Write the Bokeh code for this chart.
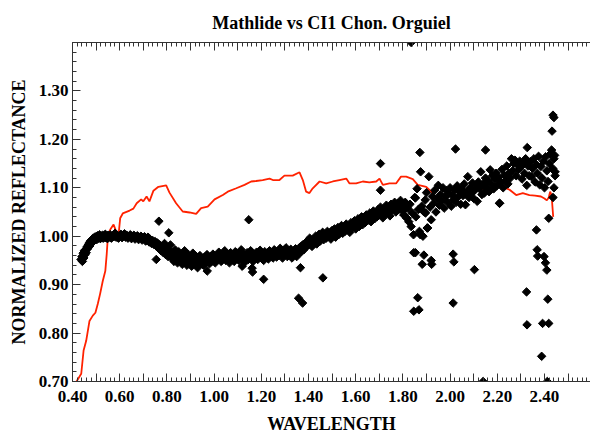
from bokeh.plotting import figure
from bokeh.models import FixedTicker, LinearAxis, Range1d, ColumnDataSource, CustomJSTickFormatter
from bokeh.embed import file_html
from bokeh.resources import INLINE

FONT = "Liberation Serif"

# ---- red line: CI1 chondrite Orgueil (normalized) ----
orgueil_wl = [0.417,0.437,0.447,0.458,0.472,0.486,0.497,0.507,0.517,0.528,0.539,0.545,0.550,0.560,0.574,0.585,0.595,0.602,0.613,0.642,
              0.658,0.672,0.691,0.700,0.714,0.726,0.743,0.764,0.797,0.811,0.839,0.867,0.896,0.924,0.945,0.973,1.002,1.037,1.058,1.094,
              1.129,1.157,1.178,1.206,1.235,1.249,1.277,1.298,1.333,1.362,1.376,1.390,1.404,1.418,1.447,1.475,1.503,1.531,1.560,1.574,
              1.602,1.630,1.658,1.687,1.701,1.715,1.743,1.771,1.792,1.814,1.842,1.863,1.899,1.920,1.941,1.962,1.976,1.997,2.026,2.047,
              2.068,2.075,2.089,2.125,2.167,2.195,2.223,2.252,2.280,2.308,2.336,2.360,2.385,2.400,2.410,2.418,2.424,2.430,2.437]
orgueil_refl = [0.700,0.716,0.764,0.784,0.825,0.836,0.842,0.860,0.881,0.907,0.928,0.963,1.000,1.014,1.024,1.010,1.002,1.037,1.047,1.053,
                1.057,1.068,1.076,1.072,1.082,1.072,1.094,1.102,1.105,1.090,1.068,1.051,1.049,1.046,1.058,1.061,1.076,1.085,1.092,1.099,
                1.106,1.113,1.114,1.116,1.119,1.116,1.116,1.125,1.125,1.132,1.116,1.092,1.089,1.099,1.113,1.109,1.113,1.116,1.119,1.109,
                1.109,1.113,1.111,1.113,1.119,1.106,1.109,1.109,1.123,1.123,1.118,1.106,1.102,1.092,1.078,1.072,1.078,1.096,1.092,1.096,
                1.092,1.099,1.092,1.098,1.096,1.105,1.102,1.096,1.085,1.089,1.085,1.084,1.082,1.078,1.074,1.080,1.092,1.085,1.040]

# ---- black diamonds: Mathilde (wavelength, normalized reflectance) ----
mathilde_vis = [(0.436,0.952),(0.440,0.958),(0.442,0.948),(0.445,0.965),(0.448,0.955),(0.450,0.970),(0.453,0.962),(0.456,0.972),
    (0.458,0.966),(0.461,0.978),(0.464,0.974),(0.467,0.982),(0.470,0.986),(0.473,0.980),(0.476,0.990),(0.479,0.985),(0.482,0.993),
    (0.485,0.988),(0.488,0.996),(0.491,0.991),(0.494,0.998),(0.497,0.994),(0.500,0.999),(0.503,0.993),(0.506,1.001),(0.509,0.996),
    (0.512,0.999),(0.515,1.003),(0.518,0.995),(0.521,1.000),(0.524,0.997),(0.527,1.002),(0.530,0.996),(0.533,1.001),(0.536,0.998),
    (0.539,1.004),(0.542,0.997),(0.545,1.000),(0.548,0.995),(0.551,1.002),(0.555,0.998),(0.560,1.003),(0.565,0.996),(0.570,1.001),
    (0.575,0.999),(0.580,1.006),(0.585,0.998),(0.590,1.002),(0.595,0.996),(0.600,1.000),(0.605,1.004),(0.610,0.997),(0.615,1.001),
    (0.620,1.005),(0.625,0.998),(0.630,1.002),(0.635,0.996),(0.640,1.000),(0.645,1.003),(0.650,0.995),(0.655,0.999),(0.660,1.002),
    (0.665,0.994),(0.670,0.998),(0.675,1.001),(0.680,0.993),(0.685,0.997),(0.690,1.000),(0.695,0.992),(0.700,0.996),(0.705,0.999),
    (0.710,0.990),(0.715,0.995),(0.720,0.998),(0.725,0.988),(0.730,0.993),(0.735,0.985),(0.740,0.991),(0.745,0.983),(0.750,0.989)]

mathilde_1um = [(0.755,0.980),(0.760,0.986),(0.765,0.975),(0.770,0.982),(0.775,0.970),(0.780,0.978),(0.785,0.966),(0.790,0.985),
    (0.795,0.962),(0.800,0.975),(0.805,0.958),(0.810,0.970),(0.815,0.982),(0.820,0.955),(0.825,0.966),(0.830,0.948),(0.835,0.972),
    (0.840,0.960),(0.845,0.945),(0.850,0.968),(0.855,0.952),(0.860,0.963),(0.865,0.942),(0.870,0.958),(0.875,0.970),(0.880,0.950),
    (0.885,0.940),(0.890,0.962),(0.895,0.947),(0.900,0.955),(0.905,0.938),(0.910,0.965),(0.915,0.950),(0.920,0.942),(0.925,0.958),
    (0.930,0.935),(0.935,0.948),(0.940,0.960),(0.945,0.944),(0.950,0.952),(0.955,0.940),(0.960,0.957),(0.965,0.946),(0.970,0.962),
    (0.975,0.950),(0.980,0.943),(0.985,0.958),(0.990,0.948),(0.995,0.963),(1.000,0.953),
    (1.005,0.945),(1.010,0.960),(1.015,0.952),(1.020,0.967),(1.025,0.956),(1.030,0.948),(1.035,0.962),(1.040,0.955),(1.045,0.970),
    (1.050,0.950),(1.055,0.963),(1.060,0.957),(1.065,0.945),(1.070,0.966),(1.075,0.953),(1.080,0.960),(1.085,0.948),(1.090,0.968),
    (1.095,0.955),(1.100,0.962),(1.105,0.950),(1.110,0.958),(1.115,0.972),(1.120,0.953),(1.125,0.962),(1.130,0.946),(1.135,0.959),
    (1.140,0.966),(1.145,0.952),(1.150,0.961),(1.155,0.970),(1.160,0.955),(1.165,0.948),(1.170,0.963),(1.175,0.958),(1.180,0.967),
    (1.185,0.952),(1.190,0.960),(1.195,0.971),(1.200,0.956),(1.205,0.963),(1.210,0.950),(1.215,0.968),(1.220,0.958),(1.225,0.964),
    (1.230,0.953),(1.235,0.970),(1.240,0.960),(1.245,0.966),(1.250,0.955),(1.255,0.972),(1.260,0.962),(1.265,0.957),(1.270,0.968),
    (1.275,0.960),(1.280,0.975),(1.285,0.963),(1.290,0.955),(1.295,0.970),(1.300,0.962),(1.305,0.976),(1.310,0.958),(1.315,0.968),
    (1.320,0.961),(1.325,0.973),(1.330,0.955),(1.335,0.967),(1.340,0.962),(1.345,0.974),(1.350,0.958),(1.355,0.970),(1.360,0.965),
    (1.365,0.978),(1.370,0.968),(1.375,0.982),(1.380,0.972)]

mathilde_slope = [(1.385,0.985),(1.390,0.978),(1.395,0.990),(1.400,0.982),(1.405,0.996),(1.410,0.986),(1.415,0.979),(1.420,0.993),
    (1.425,0.988),(1.430,1.000),(1.435,0.984),(1.440,0.995),(1.445,1.004),(1.450,0.990),(1.455,0.998),(1.460,1.008),(1.465,0.993),
    (1.470,1.002),(1.475,0.996),(1.480,1.010),(1.485,0.999),(1.490,1.006),(1.495,0.994),(1.500,1.012),(1.505,1.003),(1.510,1.015),
    (1.515,0.998),(1.520,1.008),(1.525,1.018),(1.530,1.004),(1.535,1.012),(1.540,1.022),(1.545,1.006),(1.550,1.016),(1.555,1.010),
    (1.560,1.025),(1.565,1.014),(1.570,1.020),(1.575,1.008),(1.580,1.028),(1.585,1.018),(1.590,1.024),(1.595,1.032),(1.600,1.015),
    (1.605,1.026),(1.610,1.036),(1.615,1.020),(1.620,1.030),(1.625,1.040),(1.630,1.024),(1.635,1.034),(1.640,1.028),(1.645,1.044),
    (1.650,1.032),(1.655,1.040),(1.660,1.048),(1.665,1.030),(1.670,1.042),(1.675,1.052),(1.680,1.036),(1.685,1.046),(1.690,1.040),
    (1.695,1.055),(1.700,1.044),(1.705,1.060),(1.710,1.048),(1.715,1.038),(1.720,1.056),(1.725,1.046),(1.730,1.064),(1.735,1.050),
    (1.740,1.058),(1.745,1.042),(1.750,1.066),(1.755,1.054),(1.760,1.062),(1.765,1.070),(1.770,1.050),(1.775,1.060),(1.780,1.068),
    (1.785,1.056),(1.790,1.074),(1.795,1.062),(1.800,1.052)]

mathilde_2um = [(1.805,1.044),(1.810,1.070),(1.815,1.038),(1.820,1.058),(1.825,1.030),(1.830,1.066),(1.835,1.020),(1.840,1.048),
    (1.845,1.003),(1.850,1.080),(1.855,1.040),(1.860,1.098),(1.865,1.055),(1.870,1.010),(1.875,1.133),(1.880,1.062),(1.885,1.000),
    (1.890,1.050),(1.895,1.075),(1.900,1.090),(1.905,1.017),(1.910,1.123),(1.915,1.060),(1.920,1.034),(1.925,1.082),(1.930,1.068),
    (1.935,1.095),(1.940,1.050),(1.945,1.078),(1.950,1.105),(1.955,1.064),(1.960,1.086),(1.965,1.072),(1.970,1.100),(1.975,1.058),
    (1.980,1.082),(1.985,1.094),(1.990,1.070),(1.995,1.088),(2.000,1.100),(2.005,1.062),(2.010,1.085),(2.015,1.076),(2.020,1.096),
    (2.025,1.070),(2.030,1.104),(2.035,1.082),(2.040,1.092),(2.045,1.066),(2.050,1.098),(2.055,1.084),(2.060,1.108),(2.065,1.065),
    (2.070,1.090),(2.075,1.123),(2.080,1.080),(2.085,1.100),(2.090,1.088),(2.095,1.110),(2.100,1.078),
    (2.105,1.095),(2.110,1.105),(2.115,1.072),(2.120,1.112),(2.125,1.098),(2.130,1.133),(2.135,1.086),(2.140,1.108),(2.145,1.089),
    (2.150,1.120),(2.155,1.100),(2.160,1.115),(2.165,1.092),(2.170,1.137),(2.175,1.108),(2.180,1.125),(2.185,1.098),(2.190,1.118),
    (2.195,1.130),(2.200,1.105),(2.205,1.122),(2.210,1.068),(2.215,1.112),(2.220,1.138),(2.225,1.100),(2.230,1.126),(2.235,1.115),
    (2.240,1.145),(2.245,1.108),(2.250,1.130),(2.255,1.120),(2.260,1.160),(2.265,1.135),(2.270,1.150),(2.275,1.157),(2.280,1.125),
    (2.285,1.148),(2.290,1.138),(2.295,1.155),(2.300,1.143),(2.305,1.118),(2.310,1.150),(2.315,1.130),(2.320,1.160),(2.325,1.105),
    (2.330,1.145),(2.335,1.125),(2.340,1.154),(2.345,1.123),(2.350,1.140),(2.355,1.160),(2.360,1.112),(2.365,1.148),(2.370,1.130),
    (2.375,1.165),(2.380,1.106),(2.385,1.144),(2.390,1.120),(2.395,1.155),(2.400,1.100),(2.405,1.164),(2.410,1.135),(2.415,1.113),
    (2.420,1.150),(2.425,1.170),(2.430,1.178),(2.435,1.140),(2.440,1.160),(2.445,1.125)]

mathilde_outliers = [(0.755,0.952),(0.766,1.031),(0.808,1.007),(0.971,0.928),(1.119,0.938),(1.147,1.034),(1.161,0.934),(1.163,0.926),
    (1.210,0.911),(1.366,0.935),(1.461,0.914),(1.358,0.872),(1.375,0.862),(1.705,1.150),(1.705,1.095),(1.804,1.044),(1.818,1.037),
    (1.835,1.400),(1.846,0.966),(1.846,0.845),(1.853,0.966),(1.853,1.079),(1.863,0.873),(1.868,0.848),(1.872,1.173),(1.874,1.003),
    (1.882,0.942),(1.889,0.961),(1.896,1.048),(1.903,1.017),(1.920,0.950),(1.922,0.942),(2.013,0.963),(2.016,0.947),(2.013,0.862),
    (2.023,1.180),(2.103,0.931),(2.140,0.700),(2.150,1.178),(2.209,1.068),(2.324,0.885),(2.326,0.817),(2.327,1.183),(2.366,1.013),
    (2.369,0.972),(2.371,0.959),(2.418,1.037),(2.432,1.217),(2.436,1.250),(2.440,1.245),(2.443,1.167),(2.445,1.133),(2.440,1.100),
    (2.436,1.080),(2.398,0.958),(2.404,0.945),(2.410,0.930),(2.414,0.870),(2.392,0.820),(2.418,0.820),(2.388,0.752),(2.412,0.700)]

pts = mathilde_vis + mathilde_1um + mathilde_slope + mathilde_2um + mathilde_outliers
mat_src = ColumnDataSource(dict(x=[a for a, b in pts], y=[b for a, b in pts]))

# ---- ticks ----
x_major = [0.4, 0.5, 0.6, 0.7, 0.8, 0.9, 1.0, 1.1, 1.2, 1.3, 1.4, 1.5, 1.6, 1.7, 1.8, 1.9, 2.0, 2.1, 2.2, 2.3, 2.4, 2.5, 2.6]
y_major = [0.7, 0.8, 0.9, 1.0, 1.1, 1.2, 1.3, 1.4]
x_minor = [round(0.40 + 0.02 * i, 2) for i in range(111)]
y_minor = [round(0.70 + 0.02 * i, 2) for i in range(36)]

p = figure(width=590, height=439, output_backend="svg", toolbar_location=None,
           x_range=Range1d(0.40, 2.595), y_range=Range1d(0.70, 1.40),
           min_border_left=72, min_border_right=0, min_border_top=40, min_border_bottom=58,
           x_axis_label="WAVELENGTH", y_axis_label="NORMALIZED REFLECTANCE",
           title="Mathlide vs CI1 Chon. Orguiel")
p.outline_line_color = None
p.xgrid.visible = False
p.ygrid.visible = False
p.background_fill_color = "white"
p.border_fill_color = "white"

p.title.align = "center"
p.title.text_font = FONT
p.title.text_font_size = "18px"
p.title.text_font_style = "bold"
p.title.text_color = "black"
p.title.standoff = 20

xfmt = CustomJSTickFormatter(code="return (Math.round(tick*10) % 2 == 0) ? tick.toFixed(2) : '';")
yfmt = CustomJSTickFormatter(code="return (tick > 1.35) ? '' : tick.toFixed(2);")
blank = CustomJSTickFormatter(code="return '';")

def style_axis(ax, fmt):
    ax.formatter = fmt
    ax.axis_line_color = "#333333"
    ax.major_tick_line_color = "#333333"
    ax.minor_tick_line_color = "#333333"
    ax.major_tick_in = 8
    ax.major_tick_out = 0
    ax.minor_tick_in = 4
    ax.minor_tick_out = 0
    ax.major_label_text_font = FONT
    ax.major_label_text_font_style = "bold"
    ax.major_label_text_font_size = "17px"
    ax.major_label_text_color = "black"
    ax.axis_label_text_font = FONT
    ax.axis_label_text_font_style = "bold"
    ax.axis_label_text_font_size = "18px"
    ax.axis_label_text_color = "black"

p.xaxis.ticker = FixedTicker(ticks=x_major, minor_ticks=x_minor)
p.yaxis.ticker = FixedTicker(ticks=y_major, minor_ticks=y_minor)
style_axis(p.xaxis[0], xfmt)
style_axis(p.yaxis[0], yfmt)
p.xaxis.major_label_standoff = 9
p.xaxis.axis_label_standoff = 9
p.yaxis.major_label_standoff = 4
p.yaxis.axis_label_standoff = 7

top = LinearAxis(ticker=FixedTicker(ticks=x_major, minor_ticks=x_minor))
style_axis(top, blank)
top.major_label_text_font_size = "0px"
top.major_label_standoff = 0
p.add_layout(top, "above")

p.line(orgueil_wl, orgueil_refl, line_color="#ff2200", line_width=1.8)
p.scatter("x", "y", source=mat_src, marker="square", angle=0.785, size=6,
          fill_color="black", line_color="black")

open("out.html", "w").write(file_html(p, INLINE))
